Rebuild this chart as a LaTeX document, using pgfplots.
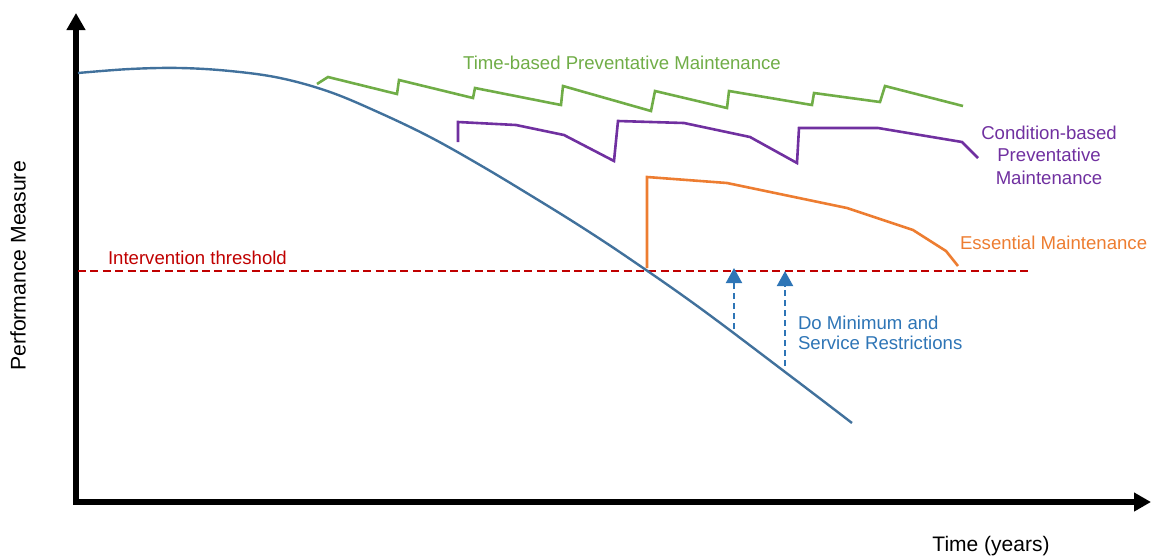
\documentclass[border=0pt]{standalone}
\usepackage{pgfplots}
\pgfplotsset{compat=1.18}
\usepackage{fontspec}
\setmainfont{Liberation Sans}
\usetikzlibrary{arrows.meta}
\definecolor{cblue}{HTML}{41719C}
\definecolor{ablue}{HTML}{2E75B6}
\definecolor{cgreen}{HTML}{70AD47}
\definecolor{cpurple}{HTML}{7030A0}
\definecolor{corange}{HTML}{ED7D31}
\definecolor{cred}{HTML}{C00000}
\tikzset{lbl/.style={inner sep=0pt, outer sep=0pt}}
\begin{document}
\begin{tikzpicture}
\begin{axis}[
  width=576.5pt, height=279.5pt, scale only axis,
  xmin=0, xmax=1153, ymin=0, ymax=559, y dir=reverse,
  hide axis, clip=false,
]
% axes
\addplot[black, line width=2.8pt, line join=miter, {Triangle[width=9pt,length=8.5pt]}-{Triangle[width=9pt,length=8.5pt]}]
  coordinates {(76,13) (76,502) (1151,502)};
% threshold
\addplot[cred, line width=1.3pt, dash pattern=on 4pt off 2.2pt] coordinates {(78,271) (1028,271)};
% deterioration curve
\addplot[cblue, line width=1.2pt, smooth, tension=0.6] coordinates {
(78,73) (130,69) (180,68) (230,71) (280,78) (330,92) (380,113) (430,137) (480,165) (530,195) (580,226) (630,259) (700,308) (793,378) (852,423)};
% time-based
\addplot[cgreen, line width=1.3pt] coordinates {
(317,84) (328,77) (397,94) (399,80) (473,98) (475,88) (561,105) (563,86) (651,111) (655,91) (727,108) (729,91) (812,105) (814,93) (880,102) (885,86) (963,106)};
% condition-based
\addplot[cpurple, line width=1.3pt] coordinates {
(458,142) (458,122) (516,125) (564,135) (614,161) (618,121) (684,123) (750,137) (797,163) (799,128) (878,128) (962,142) (978,158)};
% essential
\addplot[corange, line width=1.3pt] coordinates {
(647,268) (647,177) (727,183) (847,208) (913,230) (946,251) (958,266)};
% do minimum arrows
\addplot[ablue, line width=1pt, dash pattern=on 3pt off 2pt, -{Triangle[width=8pt,length=7.5pt]}] coordinates {(734,329) (734,268)};
\addplot[ablue, line width=1pt, dash pattern=on 3pt off 2pt, -{Triangle[width=8pt,length=7.5pt]}] coordinates {(785,366) (785,271)};
% labels
\node[lbl, text=cgreen, font=\fontsize{9.3}{11}\selectfont] at (axis cs:622,63) {Time-based Preventative Maintenance};
\node[lbl, text=cpurple, font=\fontsize{9.3}{11.3}\selectfont, align=center] at (axis cs:1049,155) {Condition-based\\Preventative\\Maintenance};
\node[lbl, text=corange, font=\fontsize{9.3}{11}\selectfont, anchor=west] at (axis cs:960,243) {Essential Maintenance};
\node[lbl, text=cred, font=\fontsize{9.3}{11}\selectfont, anchor=west] at (axis cs:108,258) {Intervention threshold};
\node[lbl, text=ablue, font=\fontsize{9.3}{10.2}\selectfont, anchor=west, align=left] at (axis cs:798,333) {Do Minimum and\\Service Restrictions};
\node[lbl, black, font=\fontsize{10.6}{12}\selectfont, rotate=90] at (axis cs:18,266) {Performance Measure};
\node[lbl, black, font=\fontsize{10.5}{12}\selectfont] at (axis cs:991,546) {Time (years)};
\end{axis}
\pgfresetboundingbox
\path[use as bounding box] (current axis.south west) rectangle (current axis.north east);
\end{tikzpicture}
\end{document}
